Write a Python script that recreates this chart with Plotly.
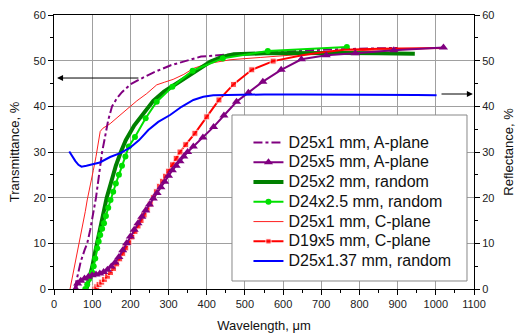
import plotly.graph_objects as go

# ---------------- data ----------------
a1_x = [54, 62, 70, 80, 87, 95, 103, 110, 118, 126, 133, 142, 152, 165, 178, 200, 231, 260, 306, 350, 385, 450, 520, 600, 700, 800, 900]
a1_y = [0, 3, 6, 8.5, 10, 13, 16.5, 20, 25, 30, 33, 37, 40, 41.8, 43.1, 44.8, 46.2, 47.4, 49, 50, 50.9, 51.3, 51.6, 52, 52.4, 52.6, 52.8]

a5_x = [57, 62, 70, 80, 90, 100, 110, 120, 130, 140, 150, 160, 170, 180, 190, 200, 210, 220, 230, 240, 250, 260, 270, 280, 290, 300,
        310, 320, 330, 340, 350, 365, 390, 418, 445, 478, 509, 547, 595, 648, 713, 789, 890, 1020]
a5_y = [0, 1.2, 1.8, 2.3, 2.7, 3.0, 3.2, 3.4, 3.7, 4.2, 4.9, 5.8, 7.0, 8.5, 10.0, 11.5, 13.0, 14.4, 15.8, 17.2, 18.5, 19.8, 21.0, 22.3, 23.5, 24.8,
        26.0, 27.0, 28.0, 29.0, 30.0, 31.2, 33.2, 35.5, 38.0, 41.0, 43.0, 45.4, 48.0, 50.3, 51.2, 51.6, 52.3, 52.9]

r2_x = [85, 90, 95, 100, 105, 113, 120, 128, 138, 150, 162, 175, 188, 210, 236, 260, 288, 320, 349, 380, 410, 440, 471, 550, 650, 750, 850, 945]
r2_y = [0, 1.5, 3, 4.8, 7, 10, 13, 16.5, 20, 23.5, 27, 30, 32.6, 35.8, 38.8, 41.2, 43.2, 45, 46.5, 48.2, 49.8, 50.8, 51.4, 51.6, 51.7, 51.7, 51.6, 51.5]

r25_x = [82, 87, 92, 96, 100, 104, 108, 113, 117, 121, 126, 131, 136, 142, 148, 155, 162, 170, 178, 187, 196, 212, 240, 269, 310, 363, 442, 560, 767]
r25_y = [0, 1, 2.2, 3, 3.6, 5, 6.7, 8.9, 10.4, 11.8, 13.2, 14.4, 16, 17.8, 19.5, 21.3, 23.1, 25, 27, 29, 31.2, 33.3, 37.4, 41, 44.3, 47.8, 50.5, 52.1, 53]

c1_x = [42, 48, 55, 62, 68, 75, 82, 87, 95, 103, 110, 116, 121, 128, 135, 147, 165, 182, 200, 217, 243, 269, 290, 312, 340, 365, 400, 430, 461,
        540, 600, 700, 800, 900, 1020]
c1_y = [0, 2.5, 5.5, 8.5, 10.7, 13.5, 17, 19.5, 22.5, 26, 29, 32, 34.5, 35.2, 35.6, 36.2, 37.5, 38.7, 40, 41.2, 42.8, 44.7, 45.3, 45.9, 47, 48.3, 49.3,
        49.8, 50.2, 50.7, 51.1, 51.7, 52.2, 52.5, 52.8]

c5_x = [107, 112, 118, 125, 132, 140, 148, 156, 164, 172, 180, 188, 196, 204, 212, 220, 228, 236, 244, 252, 260, 268, 276, 284, 292, 300,
        310, 320, 330, 345, 369, 400, 432, 470, 518, 574, 650, 700, 760, 850, 1020]
c5_y = [0, 0.5, 1.0, 1.5, 2.1, 2.8, 3.6, 4.5, 5.5, 6.6, 7.8, 9.0, 10.2, 11.4, 12.6, 13.8, 15.0, 16.2, 17.4, 18.6, 20.0, 21.3, 22.5, 23.6, 24.7, 25.8,
        27.2, 28.6, 30.0, 31.6, 34.1, 37.7, 41.4, 44.8, 48.0, 49.9, 51.2, 51.8, 52.4, 52.6, 52.8]
c5_last_marker = 574  # squares shown up to this wavelength

refl_x = [40, 48, 56, 64, 72, 85, 100, 120, 147, 175, 200, 223, 247, 273, 304, 334, 365, 391, 417, 469, 550, 650, 750, 850, 950, 1002]
refl_y = [30.1, 29, 28, 27.2, 26.8, 27, 27.3, 27.7, 28.9, 29.8, 31, 32.6, 34.8, 36.6, 38.1, 39.9, 41.4, 42.1, 42.4, 42.5, 42.6, 42.6, 42.6,
          42.6, 42.5, 42.4]

names = ["D25x1 mm, A-plane", "D25x5 mm, A-plane", "D25x2 mm, random", "D24x2.5 mm, random",
         "D25x1 mm, C-plane", "D19x5 mm, C-plane", "D25x1.37 mm, random"]

x_ticks = list(range(0, 1101, 100))
y_ticks = list(range(0, 61, 10))

# arrows (data coordinates: tail -> head)
left_arrow = dict(tail=225, head=8, level=46.2)
right_arrow = dict(tail=1011, head=1097, level=42.7)

# ---------------- figure ----------------
FONT = "Liberation Sans, Arial, sans-serif"
PURPLE = "#800080"


def lg(name):
    return '<span style="font-size:16px">' + name + '</span>'


fig = go.Figure()

fig.add_trace(go.Scatter(x=c1_x, y=c1_y, mode="lines", name=lg(names[4]), legendrank=5,
                         line=dict(color="#ff2020", width=1)))
fig.add_trace(go.Scatter(x=a1_x, y=a1_y, mode="lines", name=lg(names[0]), legendrank=1,
                         line=dict(color=PURPLE, width=2, dash="dashdot")))
fig.add_trace(go.Scatter(x=r2_x, y=r2_y, mode="lines", name=lg(names[2]), legendrank=3,
                         line=dict(color="#008000", width=4)))
fig.add_trace(go.Scatter(x=r25_x, y=r25_y, mode="lines+markers", name=lg(names[3]), legendrank=4,
                         line=dict(color="#00e000", width=2),
                         marker=dict(symbol="circle", size=6, color="#00e000")))
c5_sizes = [6 if v <= c5_last_marker else 0 for v in c5_x]
fig.add_trace(go.Scatter(x=c5_x, y=c5_y, mode="lines+markers", name=lg(names[5]), legendrank=6,
                         line=dict(color="#ff0000", width=2),
                         marker=dict(symbol="square", size=c5_sizes, color="#ff0000")))
fig.add_trace(go.Scatter(x=a5_x, y=a5_y, mode="lines+markers", name=lg(names[1]), legendrank=2,
                         line=dict(color=PURPLE, width=2),
                         marker=dict(symbol="triangle-up", size=8, color=PURPLE)))
fig.add_trace(go.Scatter(x=refl_x, y=refl_y, mode="lines", name=lg(names[6]), legendrank=7, yaxis="y2",
                         line=dict(color="#0000ff", width=2)))

for arr in (left_arrow, right_arrow):
    fig.add_annotation(x=arr["head"], y=arr["level"], ax=arr["tail"], ay=arr["level"],
                       xref="x", yref="y", axref="x", ayref="y", text="", showarrow=True,
                       arrowhead=2, arrowsize=1.2, arrowwidth=1, arrowcolor="#000000", standoff=0)

axis_common = dict(showline=True, linecolor="#000000", linewidth=1, ticks="outside", ticklen=5,
                   tickcolor="#000000", tickfont=dict(family=FONT, size=11, color="#222222"),
                   zeroline=False)

fig.update_layout(
    width=518, height=333, template="none",
    paper_bgcolor="white", plot_bgcolor="white",
    margin=dict(l=54, r=44, t=15, b=44),
    font=dict(family=FONT, color="#111111"),
    showlegend=True,
    legend=dict(x=0.463, y=0.589, xanchor="left", yanchor="top", bgcolor="rgba(0,0,0,0)",
                borderwidth=0, font=dict(family=FONT, size=12.9, color="#111111"),
                tracegroupgap=0, itemwidth=30),
    xaxis=dict(range=[0, 1100], tickvals=x_ticks, mirror=True, showgrid=True,
               gridcolor="#a0a0a0", gridwidth=1,
               minor=dict(dtick=50, ticklen=3, ticks="outside", tickcolor="#000000", showgrid=False),
               title=dict(text="Wavelength, μm", font=dict(family=FONT, size=13, color="#111111"), standoff=11),
               **axis_common),
    yaxis=dict(range=[0, 60], tickvals=y_ticks, showgrid=True, gridcolor="#a0a0a0", gridwidth=1,
               minor=dict(dtick=5, ticklen=3, ticks="outside", tickcolor="#000000", showgrid=False),
               title=dict(text="Transmittance, %", font=dict(family=FONT, size=13, color="#111111"), standoff=10),
               **axis_common),
    yaxis2=dict(range=[0, 60], tickvals=y_ticks, overlaying="y", side="right", showgrid=False,
                minor=dict(dtick=5, ticklen=3, ticks="outside", tickcolor="#000000", showgrid=False),
                title=dict(text="Reflectance, %", font=dict(family=FONT, size=13, color="#111111"), standoff=10),
                **axis_common),
)

# legend box
fig.add_shape(type="rect", xref="paper", yref="paper", x0=0.4238, x1=0.9833, y0=0.0292, y1=0.635,
              fillcolor="white", line=dict(color="#888888", width=1), layer="above")

fig.write_html("out.html")
